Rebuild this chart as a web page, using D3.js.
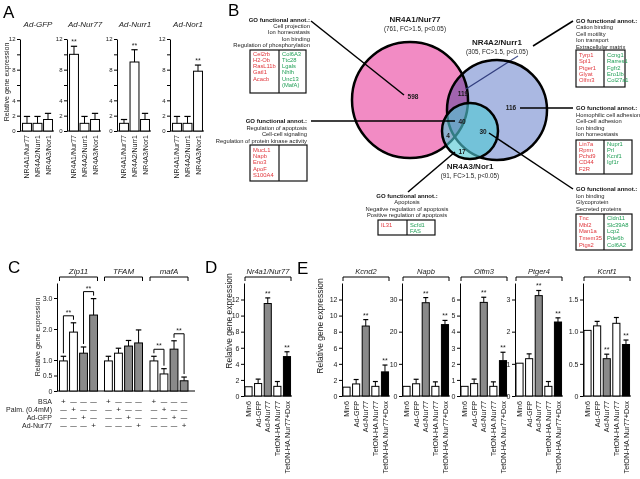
<!DOCTYPE html>
<html><head><meta charset="utf-8">
<script src="https://cdn.jsdelivr.net/npm/d3@7"></script>
<style>body{margin:0;background:#fff} svg{display:block} text{font-family:"Liberation Sans",Arial,Helvetica,sans-serif}</style>
</head><body><svg id="fig" width="640" height="479"></svg>
<script>
// ---------------- DATA ----------------
// Panel A
const aTitles = ["Ad-GFP","Ad-Nur77","Ad-Nurr1","Ad-Nor1"];
const aGenes = ["NR4A1/Nur77","NR4A2/Nurr1","NR4A3/Nor1"];
const aValues = [[1,1,1.5],[10,1,1.5],[1,9,1.5],[1,1,7.8]];
const aErrors = [[0.9,0.9,0.8],[1.05,0.9,0.8],[0.5,1.6,0.8],[0.9,0.9,0.8]];
const aSig = [[0,0,0],[1,0,0],[0,1,0],[0,0,1]];
const aTicks = [0,2,4,6,8,10,12];
const aTickLabels = ["0","2","4","","8","","12"];

// Panel B
const vennSets = ["NR4A1/Nur77","NR4A2/Nurr1","NR4A3/Nor1"];
const vennSetInfo = ["(761, FC>1.5, p<0.05)","(305, FC>1.5, p<0.05)","(91, FC>1.5, p<0.05)"];
const vennRegions = ["598","119","116","40","4","30","17"];
const goHeader = "GO functional annot.:";
const goTerms = [
  ["Cell projection","Ion homeostasis","Ion binding","Regulation of phosphorylation"],
  ["Regulation of apoptosis","Cell-cell signaling","Regulation of protein kinase activity"],
  ["Apoptosis","Negative regulation of apoptosis","Positive regulation of apoptosis"],
  ["Cation binding","Cell motility","Ion transport","Extracellular matrix"],
  ["Homophilic cell adhesion","Cell-cell adhesion","Ion binding","Ion homeostasis"],
  ["Ion binding","Glycoprotein","Secreted proteins"]
];
const goRedGenes = [
  ["Cel2rb","H2-Ob","RasL11b","Gatl1","Acacb"],
  ["MucL1","Napb","Eno3","ApoF","S100A4"],
  ["IL31"],
  ["Tyrp1","Spl1","Ptger1","Glyat","Olfm3"],
  ["Lin7a","Rprm","Pchd9","CD44","F2R"],
  ["Tnc","Mbl2","Man1a","Tmem35","Ptgs2"]
];
const goGreenGenes = [
  ["Col6A3","Ttc28","Lgals","Nhlh","Unc13","(MafA)"],
  [],
  ["Scfd1","FAS"],
  ["Ccng1","Rarres1","Fgfr2","Ero1lb","Col27a1"],
  ["Nupr1","Prl","Kcnf1","Igf1r"],
  ["Cldn11","Slc39A8","Lcp2","Pde6b","Col6A2"]
];

// Panel C
const cGenes = ["Zip11","TFAM","mafA"];
const cConditions = ["BSA","Palm. (0.4mM)","Ad-GFP","Ad-Nur77"];
const cValues = [[0.97,1.9,1.22,2.45],[0.97,1.22,1.45,1.55],[0.97,0.55,1.35,0.33]];
const cErrors = [[0.15,0.3,0.2,0.53],[0.15,0.16,0.18,0.42],[0.15,0.17,0.27,0.12]];
const cSigPairs = [[[0,1],[2,3]],[],[[0,1],[2,3]]];
const cTicks = [0,0.5,1,2,3];
const cTickLabels = ["0","0.5","1.0","2.0","3.0"];

// Panels D and E
const deCategories = ["Min6","Ad-GFP","Ad-Nur77","TetON-HA.Nur77","TetON-HA.Nur77+Dox"];
const deGenes = ["Nr4a1/Nur77","Kcnd2","Napb","Olfm3","Ptger4","Kcnf1"];
const deValues = [
  [1.15,1.55,11.5,1.2,4.9],
  [1.1,1.5,8.7,1.2,3.0],
  [3.0,3.8,29.0,3.0,22.2],
  [0.6,0.77,5.82,0.6,2.2],
  [1.02,1.16,3.12,0.3,2.3],
  [1.02,1.09,0.58,1.13,0.8]
];
const deErrors = [
  [0,0.55,0.7,0.6,0.6],
  [0,0.55,0.8,0.6,0.85],
  [0,1.4,1.6,1.4,1.3],
  [0,0.28,0.32,0.28,0.52],
  [0,0.15,0.16,0.15,0.13],
  [0,0.07,0.07,0.09,0.07]
];
const deSig = [[0,0,1,0,1],[0,0,1,0,1],[0,0,1,0,1],[0,0,1,0,1],[0,0,1,0,1],[0,0,1,0,1]];
const deTicks = [[0,2,4,6,8,10,12],[0,2,4,6,8,10,12],[0,10,20,30],[0,1,2,3,4,5,6],[0,1,2,3],[0,0.5,1,1.5]];
const deTickLabels = [
  ["0","2","4","6","8","10","12"],["0","2","4","6","8","10","12"],
  ["0","10","20","30"],["0","1","2","3","4","5","6"],["0","1","2","3"],["0","0.5","1.0","1.5"]
];

// ---------------- STYLE ----------------
const FONT = '"Liberation Sans", Arial, Helvetica, sans-serif';
const GRAY = "#8a8a8a";
const RED = "#e0363c";
const GREEN = "#1f9e55";
const cFills = ["#fff","#fff",GRAY,GRAY];
const deFills = ["#fff","#fff",GRAY,"#fff","#000"];

const svg = d3.select("#fig");
svg.append("rect").attr("width",640).attr("height",479).attr("fill","#fff");

function letter(t,x,y){ svg.append("text").attr("x",x).attr("y",y).attr("font-size",17).attr("fill","#000").text(t); }

function yAxis(g, ax, y, ticks, labels, fs){
  g.append("g").attr("transform",`translate(${ax},0)`)
    .call(d3.axisLeft(y).tickValues(ticks).tickFormat((d,i)=>labels[i]).tickSize(3).tickPadding(1.5).tickSizeOuter(0))
    .attr("font-family",FONT).attr("font-size",fs)
    .call(s=>s.selectAll("path,line").attr("stroke","#000").attr("stroke-width",1))
    .call(s=>s.selectAll("text").attr("fill","#222"));
}

function bars(g, x, y, cats, values, errors, fills, sig, sigFs){
  const bw = x.bandwidth();
  const data = values.map((v,i)=>({c:cats[i], v, e:errors[i], f:fills[i], s:sig[i]}));
  g.selectAll("rect.bar").data(data).join("rect").attr("class","bar")
    .attr("x",d=>x(d.c)).attr("y",d=>y(d.v)).attr("width",bw).attr("height",d=>y(0)-y(d.v))
    .attr("fill",d=>d.f).attr("stroke","#000").attr("stroke-width",1);
  const eb = data.filter(d=>d.e>0);
  g.selectAll("line.err").data(eb).join("line").attr("class","err")
    .attr("x1",d=>x(d.c)+bw/2).attr("x2",d=>x(d.c)+bw/2).attr("y1",d=>y(d.v)).attr("y2",d=>y(d.v+d.e))
    .attr("stroke","#000").attr("stroke-width",1);
  g.selectAll("line.cap").data(eb).join("line").attr("class","cap")
    .attr("x1",d=>x(d.c)+bw*0.15).attr("x2",d=>x(d.c)+bw*0.85).attr("y1",d=>y(d.v+d.e)).attr("y2",d=>y(d.v+d.e))
    .attr("stroke","#000").attr("stroke-width",1.2);
  g.selectAll("text.sig").data(data.filter(d=>d.s)).join("text").attr("class","sig")
    .attr("x",d=>x(d.c)+bw/2).attr("y",d=>y(d.v+d.e)-2).attr("text-anchor","middle")
    .attr("font-size",sigFs).attr("fill","#222").text("**");
}

function groupTitle(x0, x1, t, fs){
  svg.append("text").attr("x",(x0+x1)/2).attr("y",273.5).attr("text-anchor","middle")
    .attr("font-size",fs).attr("font-style","italic").attr("fill","#222").text(t);
  svg.append("path").attr("d",`M${x0},281V277H${x1}V281`).attr("fill","none").attr("stroke","#000").attr("stroke-width",1);
}

// ---------------- PANEL A ----------------
letter("A",3,18);
svg.append("text").attr("transform","translate(9,82) rotate(-90)").attr("text-anchor","middle")
  .attr("font-size",7).attr("fill","#222").text("Relative gene expression");
const aAxisX = [20,67,117,170];
aTitles.forEach((title,k)=>{
  const ax = aAxisX[k];
  const g = svg.append("g");
  const y = d3.scaleLinear().domain([0,12]).range([131,39]);
  const x = d3.scaleBand().domain(aGenes).range([ax+2, ax+33]).paddingInner(0.15).paddingOuter(0.05);
  yAxis(g, ax, y, aTicks, aTickLabels, 6);
  g.append("line").attr("x1",ax).attr("x2",ax+34).attr("y1",y(0)).attr("y2",y(0)).attr("stroke","#000");
  bars(g, x, y, aGenes, aValues[k], aErrors[k], ["#fff","#fff","#fff"], aSig[k], 7);
  g.append("text").attr("x",ax+18).attr("y",27).attr("text-anchor","middle").attr("font-size",8)
    .attr("font-style","italic").attr("fill","#222").text(title);
  aGenes.forEach(gn=>{
    g.append("text").attr("transform",`translate(${x(gn)+x.bandwidth()/2+2.5},135) rotate(-90)`)
      .attr("text-anchor","end").attr("font-size",7).attr("fill","#222").text(gn);
  });
});

// ---------------- PANEL B ----------------
letter("B",228,16);
const vg = svg.append("g");
const pink = {cx:410, cy:100, r:58}, blue = {cx:497, cy:110, r:50}, teal = {cx:470, cy:131, r:28};
vg.append("circle").attr("cx",pink.cx).attr("cy",pink.cy).attr("r",pink.r).attr("fill","#f28bc4").attr("stroke","#000").attr("stroke-width",2.5);
vg.append("line").attr("x1",518).attr("y1",56).attr("x2",466).attr("y2",89).attr("stroke","#4b5690").attr("stroke-width",1.3);
vg.append("circle").attr("cx",blue.cx).attr("cy",blue.cy).attr("r",blue.r).attr("fill","#aab8e2").attr("stroke","#000").attr("stroke-width",2.5)
  .style("mix-blend-mode","multiply");
vg.append("circle").attr("cx",teal.cx).attr("cy",teal.cy).attr("r",teal.r).attr("fill","rgb(80,200,212)").attr("fill-opacity",0.62).attr("stroke","none");
vg.append("circle").attr("cx",teal.cx).attr("cy",teal.cy).attr("r",teal.r).attr("fill","none").attr("stroke","#000").attr("stroke-width",2.5);

const lead = (x1,y1,x2,y2)=>svg.append("line").attr("x1",x1).attr("y1",y1).attr("x2",x2).attr("y2",y2).attr("stroke","#000").attr("stroke-width",1.5);
lead(311,21,404,95);
lead(311,121,455,121);
lead(408,192,455,152);
lead(573,21,533,46);
lead(520,108,573,108);
lead(489,133,573,189);

const regionPos = [[413,99],[463,96],[511,110],[462,123.5],[448,137.5],[483,133.5],[462,154]];
vennRegions.forEach((t,i)=>{
  svg.append("text").attr("x",regionPos[i][0]).attr("y",regionPos[i][1]).attr("text-anchor","middle")
    .attr("font-size",6.5).attr("font-weight","bold").attr("fill","#1a1a1a").text(t);
});
const setPos = [[415,22],[497,45],[470,169]];
vennSets.forEach((t,i)=>{
  svg.append("text").attr("x",setPos[i][0]).attr("y",setPos[i][1]).attr("text-anchor","middle")
    .attr("font-size",8).attr("font-weight","bold").attr("fill","#1a1a1a").text(t);
  svg.append("text").attr("x",setPos[i][0]).attr("y",setPos[i][1]+8.5).attr("text-anchor","middle")
    .attr("font-size",6.3).attr("fill","#222").text(vennSetInfo[i]);
});

const goLayout = [
  {x:310, y:21.5, anchor:"end", step:6.4, box:[250,279,306,50,93], gy:55.5, gstep:6.3},
  {x:307, y:123, anchor:"end", step:6.5, box:[250,279,307,145,181], gy:152, gstep:6.2},
  {x:407, y:198, anchor:"middle", step:6.4, box:[378,407,435,220,235], gy:226.5, gstep:6.5},
  {x:576, y:22.7, anchor:"start", step:6.5, box:[576,604,625,50,87], gy:57, gstep:6.3},
  {x:576, y:110.3, anchor:"start", step:6.4, box:[576,604,632,140,174], gy:145.5, gstep:6.3},
  {x:576, y:191.3, anchor:"start", step:6.5, box:[576,604,632,214,250], gy:220, gstep:6.7}
];
goLayout.forEach((L,k)=>{
  svg.append("text").attr("x",L.x).attr("y",L.y).attr("text-anchor",L.anchor).attr("font-size",6)
    .attr("font-weight","bold").attr("fill","#111").text(goHeader);
  goTerms[k].forEach((t,j)=>{
    svg.append("text").attr("x",L.x).attr("y",L.y+L.step*(j+1)).attr("text-anchor",L.anchor).attr("font-size",5.8)
      .attr("fill","#222").text(t);
  });
  const [x0,xd,x1,y0,y1] = L.box;
  svg.append("rect").attr("x",x0).attr("y",y0).attr("width",x1-x0).attr("height",y1-y0)
    .attr("fill","#fff").attr("stroke","#111").attr("stroke-width",1.2);
  svg.append("line").attr("x1",xd).attr("x2",xd).attr("y1",y0).attr("y2",y1).attr("stroke","#111").attr("stroke-width",1.2);
  goRedGenes[k].forEach((t,j)=>{
    svg.append("text").attr("x",x0+3).attr("y",L.gy+L.gstep*j).attr("font-size",5.8).attr("fill",RED).text(t);
  });
  goGreenGenes[k].forEach((t,j)=>{
    svg.append("text").attr("x",xd+3).attr("y",L.gy+L.gstep*j).attr("font-size",5.8).attr("fill",GREEN).text(t);
  });
});

// ---------------- PANEL C ----------------
letter("C",8,273);
{
  const g = svg.append("g");
  const ax = 57;
  const y0 = d3.scaleLinear().domain([0,3]).range([391,298]);
  const y = d3.scaleLinear().domain([0,y0.invert(283)]).range([391,283]);
  yAxis(g, ax, y, cTicks, cTickLabels, 7);
  g.append("line").attr("x1",ax).attr("x2",195).attr("y1",y(0)).attr("y2",y(0)).attr("stroke","#000");
  svg.append("text").attr("transform","translate(40,337) rotate(-90)").attr("text-anchor","middle")
    .attr("font-size",7).attr("fill","#222").text("Relative gene expression");
  const groupX = [59.5,104.5,150];
  cGenes.forEach((gene,k)=>{
    const cats = cConditions.map((c,i)=>gene+i);
    const x = d3.scaleBand().domain(cats).range([groupX[k], groupX[k]+38]).paddingInner(0.22).paddingOuter(0);
    const gg = g.append("g");
    bars(gg, x, y, cats, cValues[k], cErrors[k], cFills, [0,0,0,0], 7);
    groupTitle(groupX[k], groupX[k]+38, gene, 8);
    cSigPairs[k].forEach(([a,b])=>{
      const ta = y(cValues[k][a]+cErrors[k][a]), tb = y(cValues[k][b]+cErrors[k][b]);
      const top = Math.min(ta,tb)-7;
      const xa = x(cats[a])+x.bandwidth()/2, xb = x(cats[b])+x.bandwidth()/2;
      gg.append("path").attr("d",`M${xa},${ta-3}V${top}H${xb}V${tb-3}`).attr("fill","none").attr("stroke","#000").attr("stroke-width",1);
      gg.append("text").attr("x",(xa+xb)/2).attr("y",top-1).attr("text-anchor","middle").attr("font-size",7).attr("fill","#222").text("**");
    });
    cats.forEach((c,i)=>{
      cConditions.forEach((cond,r)=>{
        gg.append("text").attr("x",x(c)+x.bandwidth()/2).attr("y",403.5+r*8).attr("text-anchor","middle")
          .attr("font-size",i===r?8:6.5).attr("fill","#222").text(i===r?"+":"\u2014");
      });
    });
  });
  cConditions.forEach((cond,r)=>{
    svg.append("text").attr("x",52).attr("y",403.5+r*8).attr("text-anchor","end").attr("font-size",7).attr("fill","#222").text(cond);
  });
}

// ---------------- PANELS D & E ----------------
letter("D",205,273);
letter("E",297,274);
svg.append("text").attr("transform","translate(232,321) rotate(-90)").attr("text-anchor","middle")
  .attr("font-size",8.5).attr("fill","#222").text("Relative gene expression");
svg.append("text").attr("transform","translate(323,326) rotate(-90)").attr("text-anchor","middle")
  .attr("font-size",8.5).attr("fill","#222").text("Relative gene expression");
const deAxisX = [244,342,402,460,515,583];
deGenes.forEach((gene,k)=>{
  const ax = deAxisX[k];
  const g = svg.append("g");
  const tmax = deTicks[k][deTicks[k].length-1];
  const y0 = d3.scaleLinear().domain([0,tmax]).range([396,299.5]);
  const y = d3.scaleLinear().domain([0,y0.invert(283)]).range([396,283]);
  yAxis(g, ax, y, deTicks[k], deTickLabels[k], 7);
  g.append("line").attr("x1",ax).attr("x2",ax+48).attr("y1",y(0)).attr("y2",y(0)).attr("stroke","#000");
  const x = d3.scaleBand().domain(deCategories).range([ax, ax+47.5]).paddingInner(0.26).paddingOuter(0.1);
  bars(g, x, y, deCategories, deValues[k], deErrors[k], deFills, deSig[k], 7);
  groupTitle(ax+1, ax+47, gene, 7.5);
  deCategories.forEach(c=>{
    g.append("text").attr("transform",`translate(${x(c)+x.bandwidth()/2+2.6},401) rotate(-90)`)
      .attr("text-anchor","end").attr("font-size",7.3).attr("fill","#222").text(c);
  });
});
</script></body></html>
